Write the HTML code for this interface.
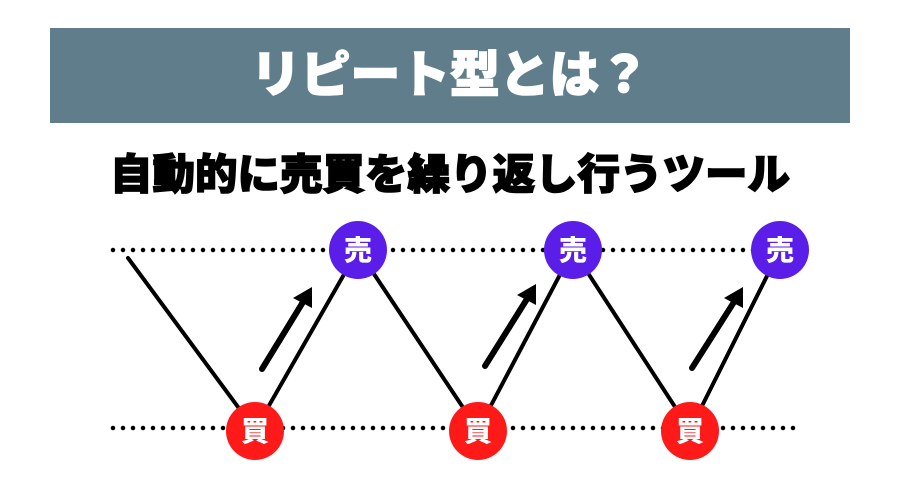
<!DOCTYPE html>
<html><head><meta charset="utf-8"><style>
html,body{margin:0;padding:0;background:#fff;}
svg{display:block;}
text{font-family:"Liberation Sans","Noto Sans CJK JP",sans-serif;font-weight:900;}
</style></head><body>
<svg width="900" height="500" viewBox="0 0 900 500" xmlns="http://www.w3.org/2000/svg">
<rect x="0" y="0" width="900" height="500" fill="#fff"/>
<rect x="50" y="28" width="800" height="95" fill="#607d8b"/>
<text x="450" y="92" text-anchor="middle" fill="#fff" font-size="50" textLength="398" lengthAdjust="spacingAndGlyphs" stroke="#fff" stroke-width="1.5">リピート型とは？</text>
<text x="450" y="189" text-anchor="middle" fill="#000" font-size="42" textLength="680" lengthAdjust="spacingAndGlyphs" stroke="#000" stroke-width="1.5">自動的に売買を繰り返し行うツール</text>
<g stroke="#000" stroke-width="4.5" stroke-linecap="round" stroke-dasharray="0 10">
<line x1="113" y1="250" x2="760" y2="250"/>
<line x1="113" y1="428" x2="795" y2="428"/>
</g>
<g stroke="#000" stroke-width="4" stroke-linecap="round" fill="none">
<polyline points="128,258 255,430 358,250 478,430 573,250 690,430 780,250"/>
</g>
<g stroke="#000" stroke-width="6" stroke-linecap="round">
<line x1="262" y1="369" x2="303" y2="302"/>
<line x1="485" y1="366" x2="527" y2="299"/>
<line x1="692" y1="368" x2="734" y2="302"/>
</g>
<g fill="#000">
<polygon points="312,287 312,308 293,298"/>
<polygon points="536,284 536,305 517,295"/>
<polygon points="743,287 743,308 724,298"/>
</g>
<g fill="#5b1ee8">
<circle cx="358" cy="250" r="29"/><circle cx="573" cy="250" r="29"/><circle cx="780" cy="250" r="29"/>
</g>
<g fill="#ff1a1a">
<circle cx="255" cy="431" r="29"/><circle cx="478" cy="431" r="29"/><circle cx="690" cy="431" r="29"/>
</g>
<g fill="#fff" font-size="28" text-anchor="middle">
<text x="358" y="260">売</text><text x="573" y="260">売</text><text x="780" y="260">売</text>
<text x="255" y="441">買</text><text x="478" y="441">買</text><text x="690" y="441">買</text>
</g>
</svg>
</body></html>
